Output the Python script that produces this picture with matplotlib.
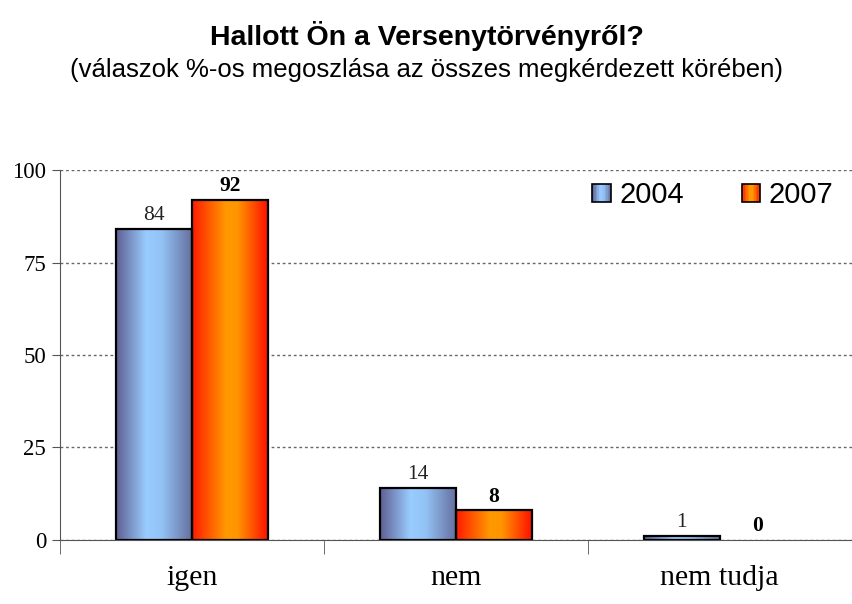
import numpy as np
import matplotlib
matplotlib.use("Agg")
import matplotlib.pyplot as plt
from matplotlib.colors import LinearSegmentedColormap
from matplotlib.patches import Rectangle
from matplotlib.legend_handler import HandlerBase

# adatok
categories = ["igen", "nem", "nem tudja"]
years = ["2004", "2007"]
values_2004 = [84, 14, 1]
values_2007 = [92, 8, 0]

serif = ["Liberation Serif", "DejaVu Serif"]
sans = ["Liberation Sans", "DejaVu Sans"]

cmap_blue = LinearSegmentedColormap.from_list(
    "blue", [(0, "#5f5f92"), (0.4, "#99ccff"), (0.6, "#93c3f5"), (1, "#66709f")])
cmap_red = LinearSegmentedColormap.from_list(
    "red", [(0, "#ff1a00"), (0.45, "#ff9900"), (0.6, "#ff9500"), (1, "#ff1000")])

fig = plt.figure(figsize=(8.53, 6.04), dpi=100)
ax = fig.add_axes([0.0703, 0.106, 0.928, 0.6125])

x = np.arange(len(categories))
w = 0.288
grad = np.linspace(0, 1, 256).reshape(1, -1)


def gradient_bars(xs, vals, cmap):
    bars = ax.bar(xs, vals, w, facecolor="none", edgecolor="black", linewidth=1.6, zorder=4)
    for b in bars:
        if b.get_height() <= 0:
            b.set_linewidth(0)
            continue
        bx, by = b.get_x(), b.get_y()
        im = ax.imshow(grad, cmap=cmap, aspect="auto", zorder=3,
                       extent=[bx, bx + b.get_width(), by, by + b.get_height()])
        im.set_clip_path(b)
    return bars


gradient_bars(x - w / 2, values_2004, cmap_blue)
gradient_bars(x + w / 2, values_2007, cmap_red)

for xi, v in zip(x, values_2004):
    ax.text(xi - w / 2, v + 2.4, str(v), ha="center", va="baseline", fontsize=15.5,
            family=serif, color="#222222")
for xi, v in zip(x, values_2007):
    ax.text(xi + w / 2, v + 2.4, str(v), ha="center", va="baseline", fontsize=15.5,
            family=serif, fontweight="bold")

ax.set_xlim(-0.5, 2.5)
ax.set_ylim(0, 100)
ax.set_yticks([0, 25, 50, 75, 100])
ax.set_xticks(x)
ax.set_xticklabels(categories, family=serif, fontsize=21.5)
ax.set_xticks([-0.5, 0.5, 1.5, 2.5], minor=True)
ax.tick_params(axis="x", which="major", length=0, pad=18)
ax.tick_params(axis="x", which="minor", length=10, color="#555555")
ax.tick_params(axis="y", length=6, color="#555555", labelsize=16.5, pad=4)
for lab in ax.get_yticklabels():
    lab.set_family(serif)
ax.yaxis.grid(True, linestyle=(0, (2, 2)), color="#666666", linewidth=1)
ax.set_axisbelow(True)
for s in ["top", "right"]:
    ax.spines[s].set_visible(False)
ax.spines["left"].set_color("#555555")
ax.spines["bottom"].set_color("#555555")


class GradHandler(HandlerBase):
    def create_artists(self, legend, orig_handle, xdescent, ydescent, width, height, fontsize, trans):
        cmap = orig_handle
        n = 12
        side = height
        x0 = -xdescent + (width - side) / 2
        out = []
        for i in range(n):
            r = Rectangle((x0 + i * side / n, -ydescent), side / n, side,
                          facecolor=cmap((i + 0.5) / n), edgecolor="none", transform=trans)
            out.append(r)
        out.append(Rectangle((x0, -ydescent), side, side, facecolor="none",
                             edgecolor="black", linewidth=1.2, transform=trans))
        return out


leg = ax.legend([cmap_blue, cmap_red], years, handler_map={LinearSegmentedColormap: GradHandler()},
                loc="upper right", bbox_to_anchor=(1.01, 1.04), ncol=2, frameon=False,
                prop={"family": sans, "size": 21}, handlelength=0.6, handleheight=0.6,
                handletextpad=0.3, columnspacing=2.0)

fig.text(0.5, 0.9255, "Hallott Ön a Versenytörvényről?", ha="center", va="baseline",
         family=sans, fontsize=20.5, fontweight="bold")
fig.text(0.5, 0.8725, "(válaszok %-os megoszlása az összes megkérdezett körében)", ha="center",
         va="baseline", family=sans, fontsize=18.5)

fig.savefig("out.png", dpi=100)
